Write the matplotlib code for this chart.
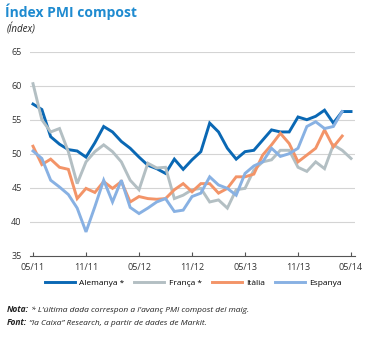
import matplotlib
matplotlib.use("Agg")
import matplotlib.pyplot as plt
import numpy as np

months = ["05/11", "11/11", "05/12", "11/12", "05/13", "11/13", "05/14"]

alemanya = [57.3, 56.5, 52.5, 51.4, 50.6, 50.4, 49.5, 51.6, 54.0, 53.2, 51.8, 50.8,
            49.5, 48.3, 47.8, 47.1, 49.2, 47.7, 49.1, 50.3, 54.5, 53.2, 50.8, 49.2,
            50.3, 50.5, 52.0, 53.5, 53.2, 53.2, 55.4, 55.0, 55.5, 56.4, 54.5, 56.2, 56.2]
franca = [60.3, 55.0, 53.2, 53.7, 50.3, 45.6, 48.8, 50.3, 51.3, 50.3, 48.8, 46.1,
          44.7, 48.6, 47.9, 48.0, 43.4, 43.9, 44.7, 44.9, 42.9, 43.2, 42.0, 44.7,
          44.9, 47.6, 48.8, 49.1, 50.5, 50.5, 48.0, 47.4, 48.8, 47.8, 51.3, 50.5, 49.3]
italia = [51.1, 48.4, 49.2, 48.0, 47.7, 43.4, 44.9, 44.3, 45.9, 44.9, 45.9, 42.9,
          43.7, 43.4, 43.3, 43.4, 44.7, 45.6, 44.4, 45.6, 45.6, 44.2, 44.9, 46.6,
          46.6, 47.0, 49.8, 51.3, 53.0, 51.5, 48.8, 49.8, 50.8, 53.5, 51.0, 52.6]
espanya = [50.4, 49.3, 46.1, 45.1, 44.0, 42.0, 38.5, 42.2, 46.1, 42.9, 46.1, 42.1,
           41.2, 42.0, 42.9, 43.4, 41.5, 41.7, 43.7, 44.2, 46.6, 45.4, 44.9, 43.9,
           47.1, 48.2, 48.8, 50.8, 49.6, 50.0, 50.8, 54.0, 54.7, 53.7, 54.0, 56.2]

series = [
    ("Alemanya *", alemanya, "#0a68b4"),
    ("França *", franca, "#b3bfc3"),
    ("Itàlia", italia, "#f39468"),
    ("Espanya", espanya, "#88b1e3"),
]

plt.rcParams['font.family'] = ['Open Sans', 'DejaVu Sans']

fig = plt.figure(figsize=(3.68, 3.38), dpi=100)
ax = fig.add_axes([30/368, 1-255.7/338, 325/368, 204/338])

for name, vals, col in series:
    ax.plot(np.arange(len(vals)), vals, color=col, lw=2.1, label=name,
            solid_joinstyle='miter', zorder=3)

ax.set_ylim(35, 65)
ax.set_xlim(-0.34, 36.45)
ax.set_yticks([35, 40, 45, 50, 55, 60, 65])
ax.set_xticks(np.arange(0, 37, 6))
ax.set_xticklabels(months)
for y in [40, 45, 50, 55, 60, 65]:
    ax.axhline(y, color="#d4d4d4", lw=0.8, zorder=1)
for s in ["top", "right", "left"]:
    ax.spines[s].set_visible(False)
ax.spines["bottom"].set_color("#555555")
ax.spines["bottom"].set_linewidth(0.8)
ax.tick_params(axis='y', length=0, labelsize=6.5, colors="#333333", pad=6)
ax.tick_params(axis='x', direction='in', length=3, width=0.8, color="#555555",
               labelsize=6.5, labelcolor="#333333", pad=5)

fig.legend(loc='center', bbox_to_anchor=(0.525, 1-283/338), ncol=4, frameon=False,
           fontsize=6, handlelength=3.6, columnspacing=1.2, handletextpad=0.5)

fig.text(5/368, 1-12/338, "Índex PMI compost", fontsize=10, fontweight='bold',
         color="#1f8bd0", va='center', ha='left')
fig.text(7/368, 1-29/338, "(Índex)", fontsize=7, style='italic', color="#222222",
         va='center', ha='left')

notes = [
    ("Nota:", " * L'última dada correspon a l'avanç PMI compost del maig.", 312),
    ("Font:", " “la Caixa” Research, a partir de dades de Markit.", 325),
]
fig.canvas.draw()
renderer = fig.canvas.get_renderer()
for bold_part, rest, ypix in notes:
    yb = 1 - ypix/338
    t = fig.text(7/368, yb, bold_part, fontsize=6, style='italic', fontweight='bold',
                 color="#222222", va='baseline', ha='left')
    w = t.get_window_extent(renderer).width / fig.bbox.width
    fig.text(7/368 + w, yb, rest, fontsize=6, style='italic', color="#222222",
             va='baseline', ha='left')

fig.savefig("out.png", dpi=100)
